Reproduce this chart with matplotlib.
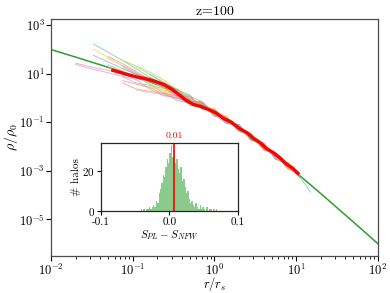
import numpy as np
import matplotlib
matplotlib.use("Agg")
import matplotlib.pyplot as plt

plt.rcParams['font.family'] = 'serif'
plt.rcParams['font.serif'] = ['cmr10', 'DejaVu Serif']
plt.rcParams['mathtext.fontset'] = 'cm'
plt.rcParams['axes.formatter.use_mathtext'] = True
plt.rcParams['axes.unicode_minus'] = True

nan = np.nan

# ---- data ----
title = "z=100"
x_range = [1e-2, 1e2]
y_range = [10**-6.52, 10**3.25]
y_ticks = [1e3, 1e1, 1e-1, 1e-3, 1e-5]

# radii at which individual halo profiles are sampled (r/r_s)
r_nodes = [0.02, 0.033, 0.05, 0.075, 0.11, 0.16, 0.24, 0.35, 0.5, 0.7,
           1.0, 1.4, 2.0, 2.8, 4.0, 5.6, 8.0, 11.0, 15.0]

# individual halo profiles: log10 offset from NFW at r_nodes
halo_offsets = [
    [nan, .77, .62, .48, .33, .18, .02, -.10, -.25, -.08, .10, -.08, .12, -.10, .08, -.08, .10, -.04, -.30],
    [nan, nan, .45, .35, .22, .10, .00, -.05, .12, .15, .02, .14, -.06, .12, -.02, .13, .05, nan, nan],
    [nan, nan, nan, -.10, -.05, .00, .08, .05, -.10, .06, -.10, .08, -.05, .10, -.08, .05, nan, nan, nan],
    [-.25, -.20, -.12, -.05, .02, .05, .07, -.05, .10, -.08, .12, -.06, .10, -.12, .08, nan, nan, nan, nan],
    [nan, nan, nan, .48, .45, .40, .30, .15, .02, -.10, .06, -.12, .08, -.05, .10, -.10, .06, .02, nan],
    [nan, .55, .40, .25, .10, -.05, -.15, -.14, .08, -.10, .10, -.05, .12, -.10, .06, -.08, .12, nan, nan],
    [nan, nan, nan, nan, -.55, -.45, -.30, -.20, -.10, .08, -.06, .12, -.10, .05, -.12, .08, -.05, .08, nan],
    [nan, nan, nan, .15, .10, .05, -.02, -.10, .06, -.10, .08, -.12, .06, -.08, .10, -.06, nan, nan, nan],
    [nan, nan, .10, .05, .00, -.10, -.25, -.30, -.18, .04, -.10, .10, -.08, .12, -.04, .10, -.10, .04, nan],
    [nan, nan, nan, -.45, -.50, -.40, -.25, -.12, .08, -.06, .12, -.10, .06, -.12, .08, -.04, .10, nan, nan],
    [nan, .30, .22, .15, .10, .06, .00, -.08, -.04, .10, -.06, .08, -.10, .06, .12, -.10, .04, -.08, nan],
    [-.30, -.28, -.22, -.18, -.12, -.30, -.35, -.18, -.08, .08, -.10, .12, -.04, .08, -.10, .06, nan, nan, nan],
    [nan, nan, nan, nan, .40, .32, .22, .15, .10, -.04, .10, -.08, .12, -.06, .06, -.12, .08, .10, nan],
    [nan, nan, nan, nan, -.30, -.25, -.15, -.06, .04, -.10, .08, -.06, .10, -.08, .14, -.04, .06, nan, nan],
    [nan, nan, .35, .28, .20, .12, .05, .00, -.10, .10, -.04, .12, -.08, .10, -.12, .06, nan, nan, nan],
    [nan, nan, nan, -.20, -.25, -.15, -.05, .06, -.04, .08, -.10, .06, -.12, .04, -.06, .10, -.06, nan, nan],
    [nan, nan, nan, nan, nan, .20, .12, .05, -.12, -.04, .12, -.04, .06, -.10, .08, -.04, .10, nan, nan],
    [nan, nan, .00, -.02, -.05, .02, .10, .06, -.08, .06, -.12, .10, -.04, .12, -.06, .08, -.08, .06, nan],
    [nan, nan, nan, .25, .15, .08, .00, -.14, -.12, .08, .00, -.10, .14, -.04, .08, -.08, .04, nan, nan],
    [nan, nan, nan, -.35, -.30, -.22, -.30, -.22, -.08, .12, -.04, .10, -.10, .06, -.08, .12, -.06, nan, nan],
    [nan, nan, nan, nan, nan, nan, .15, .05, -.15, .12, -.14, .16, -.10, .15, -.12, .14, -.08, nan, nan],
    [nan, nan, nan, nan, nan, -.20, -.12, .10, .14, -.12, .15, -.14, .12, -.16, .10, -.12, .15, .05, nan],
    [nan, nan, nan, nan, .05, .10, -.05, -.18, .10, -.15, .08, .14, -.12, .10, -.15, .12, nan, nan, nan],
    [nan, nan, nan, nan, nan, nan, nan, .18, -.06, .14, -.15, .10, -.14, .16, -.10, .08, -.14, nan, nan],
    [nan, nan, nan, nan, nan, .30, .18, .12, .16, -.14, .12, -.10, .16, -.12, .14, -.15, .10, nan, nan],
    [nan, nan, nan, nan, nan, nan, -.20, -.22, -.16, .10, -.15, .12, -.08, .14, -.16, .10, -.12, .08, nan],
    [nan, nan, nan, nan, nan, .00, .05, .15, -.12, .16, -.10, -.15, .14, -.08, .12, -.14, nan, nan, nan],
    [nan, nan, nan, nan, nan, nan, .10, -.15, .12, -.16, .14, -.12, .10, -.15, .16, -.10, .12, nan, nan],
]
halo_colors = ['#66c2a5', '#fc8d62', '#8da0cb', '#e78ac3', '#a6d854', '#ffd92f', '#e5c494', '#b3b3b3']

# mean (stacked) profile: radii and log10 offset from NFW
mean_r = [0.057, 0.08, 0.11, 0.14, 0.18, 0.24, 0.3, 0.36, 0.44, 0.55, 0.68, 0.85,
          1.05, 1.3, 1.6, 2.0, 2.5, 3.0, 3.6, 4.3, 5.2, 6.3, 7.5, 9.0, 10.5]
mean_offset = [-0.06, -0.04, 0.0, 0.06, 0.10, 0.12, 0.07, -0.02, -0.12, -0.15, -0.07, -0.02,
               0.02, -0.02, 0.04, 0.0, 0.05, 0.01, 0.04, 0.0, 0.05, 0.06, 0.02, 0.06, 0.03]

# histogram of S_PL - S_NFW
hist_left_edge = -0.042
hist_bin_width = 0.002
hist_counts = [1, 0, 1, 0, 1, 1, 2, 1, 2, 3, 2, 5, 4, 9, 11, 14, 18, 17, 22, 26, 24,
               29, 33, 27, 30, 24, 26, 21, 19, 22, 15, 16, 12, 9, 10, 6, 4, 5, 3, 2,
               4, 2, 1, 3, 1, 2, 1, 0, 2, 0, 1, 1, 0, 1, 0, 1, 0]
mean_diff = 0.007


def nfw(r):
    r = np.asarray(r, dtype=float)
    return 1.0 / (r * (1.0 + r) ** 2)


fig = plt.figure(figsize=(3.9, 2.93), dpi=100)
ax = fig.add_axes([0.131, 0.126, 0.838, 0.809])

r_line = np.logspace(np.log10(x_range[0]), np.log10(x_range[1]), 200)
ax.plot(r_line, nfw(r_line), color='#2ca02c', lw=1.1, zorder=2)

rn = np.array(r_nodes)
for i, offs in enumerate(halo_offsets):
    offs = np.array(offs)
    m = ~np.isnan(offs)
    ax.plot(rn[m], nfw(rn[m]) * 10 ** offs[m], color=halo_colors[i % len(halo_colors)],
            lw=0.6, alpha=0.8, zorder=3)

mr = np.array(mean_r)
ax.plot(mr, nfw(mr) * 10 ** np.array(mean_offset), color='red', lw=2.4, zorder=4)

ax.set_xscale('log')
ax.set_yscale('log')
ax.set_xlim(*x_range)
ax.set_ylim(*y_range)
ax.yaxis.set_major_locator(matplotlib.ticker.FixedLocator(y_ticks))
ax.yaxis.set_minor_locator(matplotlib.ticker.NullLocator())
ax.yaxis.set_major_formatter(matplotlib.ticker.LogFormatterSciNotation(base=10))
ax.set_xlabel(r'$r/r_s$', fontsize=9, va='center')
ax.xaxis.set_label_coords(0.5, -0.118)
ax.set_ylabel(r'$\rho/\rho_0$', fontsize=10, labelpad=-1)
ax.set_title(r'$\mathrm{z\!=\!100}$', fontsize=10, pad=3)
ax.tick_params(labelsize=9, direction='out', length=3.5, width=0.8, pad=1)
ax.tick_params(which='minor', length=2, width=0.6)
for s in ax.spines.values():
    s.set_color('0.3')
    s.set_linewidth(0.9)

# inset
ins = fig.add_axes([0.259, 0.280, 0.351, 0.232])
edges = hist_left_edge + hist_bin_width * np.arange(len(hist_counts) + 1)
ins.hist(edges[:-1], bins=edges, weights=hist_counts, color='#4cae4c', alpha=0.65)
ins.axvline(mean_diff, color='red', lw=1.2)
ins.text(mean_diff, 1.04, f'{mean_diff:.2f}', color='red', fontsize=7,
         ha='center', va='bottom', transform=ins.get_xaxis_transform())
ins.set_xlim(-0.1, 0.1)
ins.set_ylim(0, 34)
ins.set_xticks([-0.1, 0.0, 0.1])
ins.set_yticks([0, 20])
ins.xaxis.set_major_formatter(matplotlib.ticker.FormatStrFormatter('%.1f'))
ins.tick_params(labelsize=8, length=3, width=0.8, pad=1.5)
ins.set_xlabel(r'$S_{PL}-S_{NFW}$', fontsize=8, labelpad=1)
ins.set_ylabel('# halos', fontsize=8, labelpad=1)
for s in ins.spines.values():
    s.set_color('0.15')
    s.set_linewidth(0.9)

fig.savefig('out.png', dpi=100)
